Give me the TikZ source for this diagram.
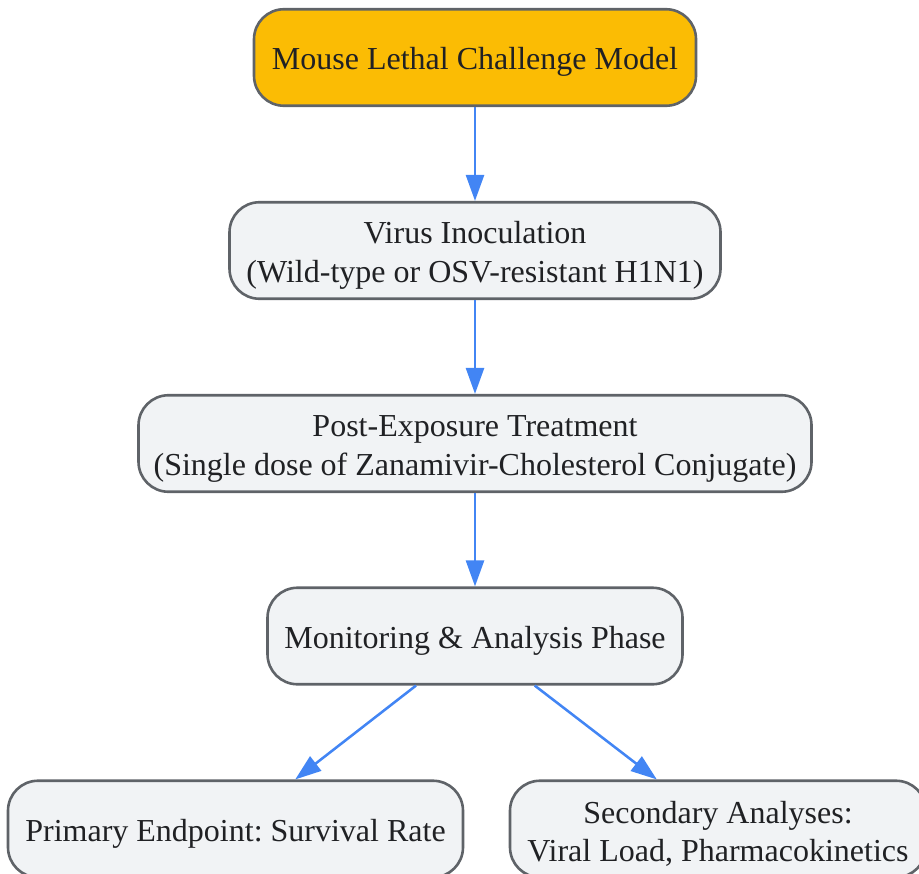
\documentclass[tikz,border=0pt]{standalone}
\usepackage{fontspec}
\setmainfont{Liberation Serif}
\usetikzlibrary{arrows.meta}
\definecolor{boxfill}{HTML}{F1F3F5}
\definecolor{boxline}{HTML}{5F6368}
\definecolor{startfill}{HTML}{FBBC04}
\definecolor{arrowc}{HTML}{4285F4}
\definecolor{textc}{HTML}{202124}
\newcommand{\boxlift}{\rule{0pt}{23.6pt}}
\tikzset{
  x=0.75pt,y=-0.75pt,
  flowbox/.style={draw=boxline,line width=1.95pt,fill=boxfill,rounded corners=22.5pt,inner sep=0pt,text=textc,align=center,font=\fontsize{24pt}{28.9pt}\selectfont\frenchspacing,minimum height=72.4pt},
  flowedge/.style={draw=arrowc,line width=1.9pt,-{Triangle[length=19.5pt,width=13.5pt]}}
}
\begin{document}
\begin{tikzpicture}
\useasboundingbox (0,0) rectangle (919,873);
\node[flowbox,fill=startfill,minimum width=442*0.75pt] (a) at (475,57.5) {\boxlift Mouse Lethal Challenge Model};
\node[flowbox,minimum width=491*0.75pt] (b) at (475,250.5) {\boxlift Virus Inoculation\\(Wild-type or OSV-resistant H1N1)};
\node[flowbox,minimum width=673*0.75pt] (c) at (475,443.5) {\boxlift Post-Exposure Treatment\\(Single dose of Zanamivir-Cholesterol Conjugate)};
\node[flowbox,minimum width=415*0.75pt] (d) at (475,636) {\boxlift Monitoring \& Analysis Phase};
\node[flowbox,minimum width=455*0.75pt] (e) at (235.5,829) {\boxlift Primary Endpoint: Survival Rate};
\node[flowbox,minimum width=416*0.75pt] (f) at (718,829) {\boxlift Secondary Analyses:\\Viral Load, Pharmacokinetics};
\draw[flowedge] (a) -- (b);
\draw[flowedge] (b) -- (c);
\draw[flowedge] (c) -- (d);
\draw[flowedge] ([xshift=-44.25pt]d.south) -- ([xshift=44.8pt]e.north);
\draw[flowedge] ([xshift=44.8pt]d.south) -- ([xshift=-45.9pt]f.north);
\end{tikzpicture}
\end{document}
